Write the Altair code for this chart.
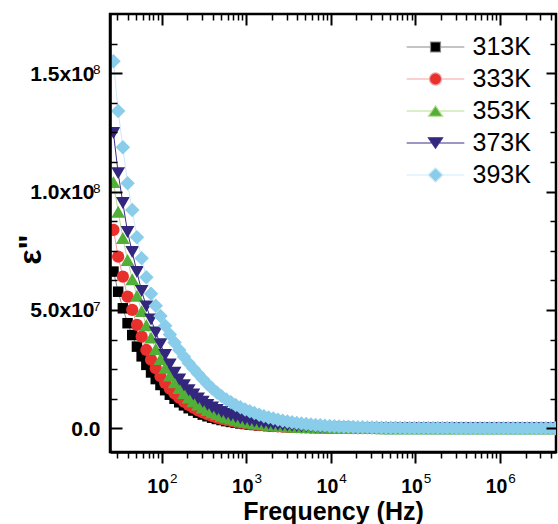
import altair as alt
import pandas as pd

# ---------------- data ----------------
freq = [26.92, 30.59, 34.76, 39.51, 44.89, 51.02, 57.98, 65.89, 74.87, 85.11,
        96.74, 109.9, 124.9, 142.0, 161.4, 183.4, 208.4, 236.8, 269.2, 305.9,
        347.6, 395.1, 448.9, 510.2, 579.8, 658.9, 748.7, 851.1, 967.4, 1099,
        1249, 1420, 1614, 1834, 2084, 2368, 2692, 3059, 3476, 3951,
        4489, 5102, 5798, 6589, 7487, 8511, 9674, 10990, 12490, 14200,
        16140, 18340, 20840, 23680, 26920, 30590, 34760, 39510, 44890, 51020,
        57980, 65890, 74870, 85110, 96740, 109900, 124900, 142000, 161400, 183400,
        208400, 236800, 269200, 305900, 347600, 395100, 448900, 510200, 579800, 658900,
        748700, 851100, 967400, 1099000, 1249000, 1420000, 1614000, 1834000, 2084000, 2368000,
        2692000, 3059000, 3476000, 3951000, 4489000]

# epsilon'' in units of 1e6
eps_313 = [66.2, 57.7, 50.7, 44.4, 39.4, 34.5, 30.4, 26.8, 23.6, 20.8,
           18.3, 16.1, 14.2, 12.5, 11.0, 9.7, 8.5, 7.5, 6.6, 5.8,
           5.1, 4.5, 3.95, 3.5, 3.05, 2.7, 2.35, 2.07, 1.82, 1.6,
           1.41, 1.24, 1.09, 0.96, 0.85, 0.75, 0.66, 0.58, 0.51, 0.45,
           0.39, 0.35, 0.3, 0.27, 0.23, 0.21, 0.18, 0.16, 0.14, 0.12,
           0.11, 0.1, 0.09, 0.08, 0.07, 0.06, 0.05, 0.05, 0.04, 0.04,
           0.04, 0.03, 0.03, 0.03, 0.03, 0.02, 0.02, 0.02, 0.02, 0.02,
           0.02, 0.02, 0.02, 0.02, 0.02, 0.02, 0.02, 0.02, 0.02, 0.02,
           0.02, 0.02, 0.02, 0.02, 0.02, 0.02, 0.02, 0.02, 0.02, 0.02,
           0.02, 0.02, 0.02, 0.02, 0.02]
eps_333 = [83.8, 72.5, 64.1, 55.6, 50, 43.7, 38.7, 33.1, 29, 25.4,
           22, 19.2, 16.8, 14.7, 12.9, 11.3, 9.9, 8.7, 7.6, 6.7,
           5.9, 5.2, 4.55, 4.0, 3.5, 3.1, 2.7, 2.37, 2.08, 1.83,
           1.6, 1.4, 1.23, 1.08, 0.95, 0.83, 0.73, 0.64, 0.56, 0.49,
           0.43, 0.38, 0.33, 0.29, 0.26, 0.23, 0.2, 0.18, 0.16, 0.14,
           0.12, 0.11, 0.1, 0.09, 0.08, 0.07, 0.06, 0.06, 0.05, 0.05,
           0.05, 0.04, 0.04, 0.04, 0.04, 0.03, 0.03, 0.03, 0.03, 0.03,
           0.02, 0.02, 0.02, 0.02, 0.02, 0.02, 0.02, 0.02, 0.02, 0.02,
           0.02, 0.02, 0.02, 0.02, 0.02, 0.02, 0.02, 0.02, 0.02, 0.02,
           0.02, 0.02, 0.02, 0.02, 0.02]
eps_353 = [104, 91.5, 80.4, 71.1, 63, 56, 49.5, 43.5, 38.3, 33.5,
           29.3, 25.6, 22.3, 19.5, 17.0, 14.9, 13.0, 11.4, 10.0, 8.8,
           7.7, 6.8, 6.0, 5.3, 4.65, 4.1, 3.6, 3.15, 2.8, 2.45,
           2.15, 1.9, 1.67, 1.47, 1.29, 1.13, 1.0, 0.88, 0.77, 0.68,
           0.6, 0.53, 0.46, 0.41, 0.36, 0.32, 0.28, 0.25, 0.22, 0.19,
           0.17, 0.15, 0.13, 0.12, 0.1, 0.09, 0.08, 0.07, 0.07, 0.06,
           0.06, 0.05, 0.05, 0.05, 0.04, 0.04, 0.04, 0.04, 0.03, 0.03,
           0.03, 0.03, 0.03, 0.03, 0.03, 0.02, 0.02, 0.02, 0.02, 0.02,
           0.02, 0.02, 0.02, 0.02, 0.02, 0.02, 0.02, 0.02, 0.02, 0.02,
           0.02, 0.02, 0.02, 0.02, 0.02]
eps_373 = [124.7, 107.8, 95.2, 82.9, 74.5, 66, 58, 51.5, 46, 40.5,
           35.5, 31, 27, 23.5, 20.6, 18.2, 16.1, 14.3, 12.6, 11.2,
           9.9, 8.8, 7.8, 6.9, 6.1, 5.4, 4.8, 4.25, 3.75, 3.3,
           2.9, 2.55, 2.25, 1.98, 1.74, 1.53, 1.35, 1.19, 1.05, 0.92,
           0.81, 0.71, 0.63, 0.55, 0.49, 0.43, 0.38, 0.33, 0.29, 0.26,
           0.23, 0.2, 0.18, 0.16, 0.14, 0.12, 0.11, 0.1, 0.09, 0.08,
           0.07, 0.07, 0.06, 0.06, 0.05, 0.05, 0.05, 0.04, 0.04, 0.04,
           0.04, 0.03, 0.03, 0.03, 0.03, 0.03, 0.03, 0.03, 0.03, 0.03,
           0.02, 0.02, 0.02, 0.02, 0.02, 0.02, 0.02, 0.02, 0.02, 0.02,
           0.02, 0.02, 0.02, 0.02, 0.02]
eps_393 = [155, 134, 118.7, 103.5, 92.2, 80.7, 71.8, 63.8, 56.8, 51.8,
           47.4, 43.3, 39.6, 36.2, 33.1, 30.2, 27.6, 25.3, 23.1, 20.8,
           18.7, 16.8, 15.1, 13.6, 12.2, 11.0, 9.9, 8.9, 8.0, 7.2,
           6.45, 5.75, 5.15, 4.6, 4.1, 3.65, 3.25, 2.9, 2.6, 2.3,
           2.05, 1.82, 1.62, 1.44, 1.28, 1.14, 1.01, 0.9, 0.8, 0.71,
           0.63, 0.56, 0.5, 0.45, 0.4, 0.36, 0.32, 0.29, 0.26, 0.23,
           0.21, 0.19, 0.17, 0.16, 0.15, 0.14, 0.13, 0.12, 0.11, 0.1,
           0.1, 0.09, 0.09, 0.08, 0.08, 0.07, 0.07, 0.07, 0.06, 0.06,
           0.06, 0.06, 0.05, 0.05, 0.05, 0.05, 0.05, 0.04, 0.04, 0.04,
           0.04, 0.04, 0.04, 0.03, 0.03]

temps = ["313K", "333K", "353K", "373K", "393K"]
series = [eps_313, eps_333, eps_353, eps_373, eps_393]

# tick values and labels
x_major = [100, 1000, 10000, 100000, 1000000]
x_major_text = ["10", "10", "10", "10", "10"]
x_exp_text = ["2", "3", "4", "5", "6"]
x_minor = [30, 40, 50, 60, 70, 80, 90,
           200, 300, 400, 500, 600, 700, 800, 900,
           2000, 3000, 4000, 5000, 6000, 7000, 8000, 9000,
           20000, 30000, 40000, 50000, 60000, 70000, 80000, 90000,
           200000, 300000, 400000, 500000, 600000, 700000, 800000, 900000,
           2000000, 3000000, 4000000]
y_zero = [0]
y_zero_text = ["0.0"]
y_major = [50, 100, 150]
y_major_text = ["5.0x10", "1.0x10", "1.5x10"]
y_exp_text = ["7", "8", "8"]
y_all_major = [0, 50, 100, 150]
y_minor = [12.5, 25, 37.5, 62.5, 75, 87.5, 112.5, 125, 137.5, 162.5]

# ---------------- styles ----------------
FONT = "Liberation Sans"
marker_colors = ["#000000", "#E8302C", "#52AF37", "#33277D", "#89CDEA"]
line_colors = ["#8A8A8A", "#F4A0A0", "#B8DE90", "#3B2E86", "#CDEAF7"]
shapes = ["square", "circle", "triangle-up", "triangle-down", "diamond"]
marker_sizes = [110, 150, 190, 190, 210]
legend_paths = [
    "M-5.5,0H-0.95M0.95,0H5.5M-0.95,-0.95H0.95V0.95H-0.95Z",
    "M-5.5,0H-1.15M1.15,0H5.5M-1.15,0A1.15,1.15 0 1,0 1.15,0A1.15,1.15 0 1,0 -1.15,0Z",
    "M-5.5,0H-0.7M0.7,0H5.5M0,-1L1.35,1H-1.35Z",
    "M-5.5,0H-0.7M0.7,0H5.5M0,1L1.35,-1H-1.35Z",
    "M-5.5,0H-1.4M1.4,0H5.5M0,-1.35L1.4,0L0,1.35L-1.4,0Z",
]

for s in series:
    assert len(s) == len(freq), len(s)

rows = []
for t, vals in zip(temps, series):
    for f, v in zip(freq, vals):
        rows.append({"f": f, "v": v, "T": t})
df = pd.DataFrame(rows)

X_SCALE = alt.Scale(type="log", domain=[24.5, 4.58e6], nice=False)
Y_SCALE = alt.Scale(domain=[-10, 175], nice=False, zero=False)


def label_expr(values, labels):
    expr = "''"
    for v, l in zip(reversed(values), reversed(labels)):
        expr = f"datum.value == {v} ? '{l}' : ({expr})"
    return expr


def ax(**kw):
    d = dict(grid=False, domain=False, labelFont=FONT, labelColor="black",
             tickColor="black", tickWidth=2, zindex=1, title=None,
             labelOverlap=False, labelFlush=False, labelBound=False)
    d.update(kw)
    return alt.Axis(**d)


def xe(axis):
    return alt.X("f:Q", scale=X_SCALE, axis=axis)


def ye(axis):
    return alt.Y("v:Q", scale=Y_SCALE, axis=axis)


base = alt.Chart(df)
layers = []

# data: line + symbols per temperature
for i, t in enumerate(temps):
    sub = base.transform_filter(alt.datum.T == t)
    layers.append(sub.mark_line(color=line_colors[i], strokeWidth=1, clip=True)
                  .encode(x=xe(None), y=ye(None)))
    layers.append(sub.mark_point(shape=shapes[i], filled=True, size=marker_sizes[i],
                                 color=marker_colors[i], opacity=1, strokeWidth=0, clip=True)
                  .encode(x=xe(None), y=ye(None)))

# legend
leg_kw = dict(title=None, orient="none", legendX=313, legendY=20.5, padding=0,
              labelFont=FONT, labelFontSize=25, labelColor="black", labelOffset=24.5,
              symbolSize=110, symbolOffset=0, symbolStrokeWidth=1.2, rowPadding=6,
              labelLimit=300)
layers.append(
    base.transform_filter("false").mark_point(filled=True, opacity=1, strokeWidth=1.2).encode(
        fill=alt.Fill("T:N", scale=alt.Scale(domain=temps, range=marker_colors), legend=alt.Legend(**leg_kw)),
        stroke=alt.Stroke("T:N", scale=alt.Scale(domain=temps, range=line_colors), legend=alt.Legend(**leg_kw)),
        shape=alt.Shape("T:N", scale=alt.Scale(domain=temps, range=legend_paths), legend=alt.Legend(**leg_kw)),
    )
)

# axes
X_AXES = [
    ax(orient="bottom", values=x_major, ticks=False, tickSize=0,
       labelExpr=label_expr(x_major, x_major_text), labelFontSize=19.5, labelFontWeight="bold",
       labelBaseline="alphabetic", labelPadding=40.5, labelOffset=-4,
       domain=True, domainColor="black", domainWidth=2.5,
       title="Frequency (Hz)", titleFont=FONT, titleFontSize=25, titleFontWeight="bold",
       titleColor="black", titleX=223, titleY=67, titleAlign="center", titleBaseline="alphabetic"),
    ax(orient="bottom", values=x_major, ticks=False, tickSize=0,
       labelExpr=label_expr(x_major, x_exp_text), labelFontSize=13.5, labelFontWeight="normal",
       labelBaseline="alphabetic", labelPadding=30.3, labelOffset=11.5),
    ax(orient="bottom", values=x_major, labels=False, tickSize=11),
    ax(orient="bottom", values=x_minor, labels=False, tickSize=6, tickWidth=1.5),
    ax(orient="top", values=x_major, labels=False, tickSize=11, offset=-11),
    ax(orient="top", values=x_minor, labels=False, tickSize=6, tickWidth=1.5, offset=-6),
    None,
]
Y_AXES = [
    ax(orient="left", values=y_zero, ticks=False, tickSize=0,
       labelExpr=label_expr(y_zero, y_zero_text), labelFontSize=21, labelFontWeight="bold",
       labelBaseline="middle", labelPadding=10, labelOffset=1,
       domain=True, domainColor="black", domainWidth=2.5,
       title='ε"', titleFont=FONT, titleFontSize=32, titleFontWeight="bold", titleColor="black",
       titleAngle=270, titleX=-70, titleY=235, titleAlign="center", titleBaseline="alphabetic"),
    ax(orient="left", values=y_major, ticks=False, tickSize=0,
       labelExpr=label_expr(y_major, y_major_text), labelFontSize=21, labelFontWeight="bold",
       labelBaseline="middle", labelPadding=16, labelOffset=1),
    ax(orient="left", values=y_major, ticks=False, tickSize=0,
       labelExpr=label_expr(y_major, y_exp_text), labelFontSize=13.5, labelFontWeight="normal",
       labelBaseline="middle", labelPadding=10, labelOffset=-3.5),
    ax(orient="left", values=y_all_major, labels=False, tickSize=12, offset=-12),
    ax(orient="left", values=y_minor, labels=False, tickSize=7, tickWidth=1.5, offset=-7),
    ax(orient="right", values=y_all_major, labels=False, tickSize=10, offset=-10),
    ax(orient="right", values=y_minor, labels=False, tickSize=6, tickWidth=1.5, offset=-6),
]
for xa, ya in zip(X_AXES, Y_AXES):
    layers.append(base.mark_point(opacity=0, size=1).encode(x=xe(xa), y=ye(ya)))

chart = (
    alt.layer(*layers)
    .resolve_axis(x="independent", y="independent")
    .properties(width=446, height=438,
                padding={"left": 110, "top": 14, "right": 2, "bottom": 72},
                autosize=alt.AutoSizeParams(type="none"),
                background="white")
    .configure_view(stroke="black", strokeWidth=2.5)
)

chart.save("out.html", embed_options={"renderer": "svg", "actions": False})
